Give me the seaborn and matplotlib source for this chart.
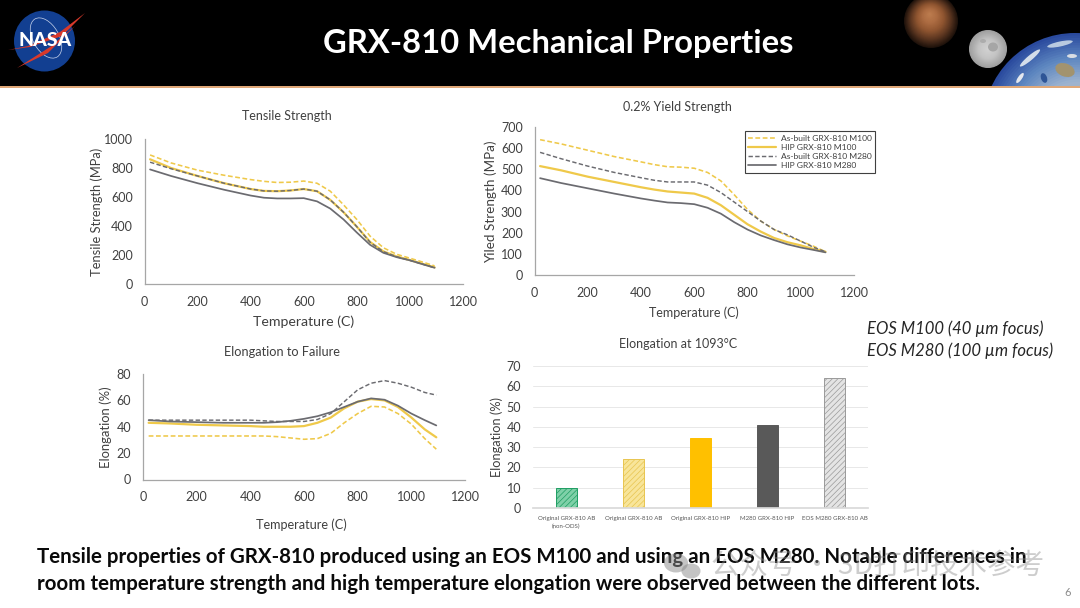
import matplotlib
matplotlib.use("Agg")
import matplotlib.pyplot as plt
import seaborn as sns
import pandas as pd
from matplotlib.colors import LinearSegmentedColormap
from matplotlib.patches import Circle, Ellipse, Polygon, Rectangle

sns.set_theme(style="white")
plt.rcParams['font.family'] = ['Lato', 'Noto Sans CJK SC', 'DejaVu Sans']
plt.rcParams['hatch.linewidth'] = 0.5

# ---------- data ----------
temperature = [21, 100, 200, 300, 400, 450, 500, 550, 600, 650, 700, 750, 800, 850, 900, 950, 1000, 1050, 1093]
series_names = ["As-built GRX-810 M100", "HIP GRX-810 M100", "As-built GRX-810 M280", "HIP GRX-810 M280"]

tensile_ab_m100 = [890, 835, 785, 750, 720, 708, 700, 702, 710, 695, 640, 546, 445, 330, 250, 205, 178, 150, 125]
tensile_hip_m100 = [860, 800, 745, 695, 655, 642, 640, 645, 655, 640, 580, 495, 395, 290, 225, 190, 165, 138, 115]
tensile_ab_m280 = [840, 795, 745, 695, 655, 642, 640, 645, 655, 640, 580, 495, 395, 288, 223, 188, 163, 136, 112]
tensile_hip_m280 = [790, 745, 695, 650, 610, 595, 590, 590, 592, 570, 520, 445, 355, 270, 215, 185, 163, 135, 112]

yield_ab_m100 = [640, 620, 590, 560, 535, 522, 512, 510, 505, 485, 445, 380, 310, 255, 215, 185, 160, 135, 110]
yield_hip_m100 = [515, 495, 465, 440, 415, 404, 395, 390, 385, 365, 330, 285, 240, 205, 175, 155, 140, 122, 110]
yield_ab_m280 = [580, 550, 515, 485, 460, 448, 440, 440, 440, 425, 390, 345, 300, 255, 215, 190, 160, 130, 110]
yield_hip_m280 = [458, 435, 410, 385, 362, 352, 343, 340, 335, 318, 290, 250, 215, 187, 165, 145, 130, 118, 107]

elong_ab_m100 = [33, 33, 33, 33, 33, 33, 32.5, 31.5, 30.5, 31, 35, 43, 50, 55.5, 55, 50, 42, 31, 23]
elong_hip_m100 = [43, 42.5, 41.5, 41, 40.5, 40, 40, 40, 40.5, 43, 47, 54, 59, 61, 60, 55, 47, 38, 32]
elong_ab_m280 = [45, 45, 45, 45, 45, 44.5, 44, 44, 44, 45.5, 50, 59, 68, 73, 75, 73, 70, 66, 64]
elong_hip_m280 = [45, 44, 43.5, 43, 43, 43, 43.5, 44.5, 46, 48, 51, 55, 59, 61.5, 60.5, 56, 50, 45, 41]

bar_labels = ["Original GRX-810 AB\n(non-ODS)", "Original GRX-810 AB", "Original GRX-810 HIP",
              "M280 GRX-810 HIP", "EOS M280 GRX-810 AB"]
bar_values = [9.8, 24.3, 34.5, 41, 64]

# ---------- styles ----------
YEL = "#EFC94A"
GRY = "#6B6B70"
line_colors = [YEL, YEL, GRY, GRY]
line_dashes = [(3, 1.6), "", (3, 1.6), ""]
line_widths = [1.15, 1.6, 1.05, 1.25]
bar_faces = ["#7FD0A8", "#F8E59A", "#FFC000", "#595959", "#E4E4E4"]
bar_edges = ["#1F9E63", "#E8C550", "#FFC000", "#595959", "#9A9A9A"]
bar_hatch = ["//////", "//////", None, None, "//////"]
TXT = "#404040"

W, H = 1080, 608
fig = plt.figure(figsize=(W / 100, H / 100), dpi=100, facecolor="white")

# full-figure layer working in image pixels
ov = fig.add_axes([0, 0, 1, 1], zorder=10)
ov.set_xlim(0, W)
ov.set_ylim(H, 0)
ov.axis("off")
ov.patch.set_alpha(0)


def box(l, t, r, b):
    return fig.add_axes([l / W, 1 - b / H, (r - l) / W, (b - t) / H])


def finish(ax, title, tpos, tsize, xlab, xpos, xsize, ylab, ypos, ysize):
    ax.set_title(title, y=1, fontsize=tsize, color=TXT)
    ax.title.set_transform(ov.transData)
    ax.title.set_position(tpos)
    ax.title.set_ha("center")
    ax.title.set_va("center")
    ax.set_xlabel(xlab, fontsize=xsize, color=TXT)
    ax.xaxis.set_label_coords(xpos[0], xpos[1], transform=ov.transData)
    ax.xaxis.label.set_va("center")
    ax.set_ylabel(ylab, fontsize=ysize, color=TXT)
    ax.yaxis.set_label_coords(ypos[0], ypos[1], transform=ov.transData)
    ax.yaxis.label.set_va("center")
    ax.patch.set_alpha(0)
    for s in ["top", "right"]:
        ax.spines[s].set_visible(False)


def line_chart(rect, ymax, ystep, series, title, tpos, tsize, xpos, xsize, ylab, ypos, ysize):
    ax = box(*rect)
    for name, vals, c, d, w in zip(series_names, series, line_colors, line_dashes, line_widths):
        df = pd.DataFrame({"T": temperature, "v": vals})
        sns.lineplot(data=df, x="T", y="v", ax=ax, color=c, lw=w,
                     label=name, errorbar=None, estimator=None, sort=False)
        ln = ax.get_lines()[-1]
        ln.set_solid_joinstyle("round")
        if d != "":
            ln.set_dashes(d)
    ax.set_xlim(0, 1200)
    ax.set_ylim(0, ymax)
    ax.set_xticks(range(0, 1201, 200))
    ax.set_yticks(range(0, ymax + 1, ystep))
    ax.tick_params(length=0, labelsize=9, labelcolor=TXT)
    ax.tick_params(axis="x", pad=8.5)
    ax.tick_params(axis="y", pad=8.5)
    for s in ["left", "bottom"]:
        ax.spines[s].set_color("#A6A6A6")
        ax.spines[s].set_linewidth(0.9)
    finish(ax, title, tpos, tsize, "Temperature (C)", xpos, xsize, ylab, ypos, ysize)
    ax.get_legend().remove()
    return ax


line_chart((144.5, 139, 463, 284), 1000, 200,
           [tensile_ab_m100, tensile_hip_m100, tensile_ab_m280, tensile_hip_m280],
           "Tensile Strength", (287, 116), 9, (304, 322), 10.2, "Tensile Strength (MPa)", (97, 212), 9.3)
ax2 = line_chart((534.5, 127, 854, 275), 700, 100,
                 [yield_ab_m100, yield_hip_m100, yield_ab_m280, yield_hip_m280],
                 "0.2% Yield Strength", (677, 107), 9, (694, 313), 9, "Yiled Strength (MPa)", (491, 202), 9.7)
line_chart((143, 374, 465, 479.5), 80, 20,
           [elong_ab_m100, elong_hip_m100, elong_ab_m280, elong_hip_m280],
           "Elongation to Failure", (282, 352), 9.2, (301, 525), 9.1, "Elongation (%)", (106, 427), 9.4)

# legend on the yield chart
handles = ax2.get_lines()
leg = ax2.legend(handles, series_names, loc="center", bbox_to_anchor=(810, 152),
                 bbox_transform=ov.transData, fontsize=6.1, frameon=True, fancybox=False,
                 edgecolor="#404040", framealpha=1, labelcolor=TXT, handlelength=3.2,
                 labelspacing=0.27, borderpad=0.42, handletextpad=0.6)
leg.get_frame().set_linewidth(0.8)

# bar chart
ax4 = box(533, 366, 868, 508)
bar_df = pd.DataFrame({"label": bar_labels, "value": bar_values})
sns.barplot(data=bar_df, x="label", y="value", ax=ax4, width=0.32, color="#999999", errorbar=None, saturation=1)
for p, f, e, h in zip(ax4.patches, bar_faces, bar_edges, bar_hatch):
    p.set_facecolor(f)
    p.set_edgecolor(e)
    p.set_linewidth(0.7)
    if h:
        p.set_hatch(h)
ax4.set_xlim(-0.5, 4.5)
ax4.set_ylim(0, 70)
ax4.set_yticks(range(0, 71, 10))
ax4.yaxis.grid(True, color="#E8E8E8", lw=0.7)
ax4.set_axisbelow(True)
ax4.tick_params(length=0, labelsize=9, labelcolor=TXT)
ax4.tick_params(axis="y", pad=8.5)
ax4.tick_params(axis="x", labelsize=4.4, pad=5.5, labelcolor="#595959")
for lab in ax4.get_xticklabels():
    lab.set_linespacing(1.7)
ax4.spines["left"].set_visible(False)
ax4.spines["bottom"].set_color("#D9D9D9")
finish(ax4, "Elongation at 1093°C", (678, 344), 9, "", (700, 540), 9, "Elongation (%)", (497, 437), 9.2)

# ---------- slide furniture ----------
ov.add_patch(Rectangle((0, 0), W, 85.5, fc="black", ec="none", zorder=1))
ov.add_patch(Rectangle((0, 85.5), W, 2, fc="#E0A878", ec="none", zorder=1))
header_clip = Rectangle((0, 0), W, 85.5, transform=ov.transData)


def shaded(cx, cy, r, colors, dx, dy, z=2, steps=40):
    cmap = LinearSegmentedColormap.from_list("s", colors)
    for i in range(steps):
        f = i / (steps - 1)
        k = 1 - f * 0.97
        a = Circle((cx + dx * (1 - k), cy + dy * (1 - k)), r * k, fc=cmap(f), ec="none", zorder=z)
        ov.add_patch(a)
        a.set_clip_path(header_clip)


# NASA logo
ov.add_patch(Circle((44.5, 41), 30.5, fc="#123F91", ec="none", zorder=2))
ov.add_patch(Ellipse((46, 38), 26, 44, angle=-30, fc="none", ec="#C8D4EC", lw=0.5, zorder=3))
ov.add_patch(Polygon([[85, 13], [60, 32], [28, 46], [8, 50], [30, 47], [62, 36]], fc="#D8392B", ec="none", zorder=3))
ov.add_patch(Polygon([[75, 26], [50, 47], [17, 68], [48, 53]], fc="#D8392B", ec="none", zorder=3))
ov.text(45, 41, "NASA", color="white", fontsize=14, fontweight="black", ha="center", va="center", zorder=4)

# planets
shaded(931, 21, 27, ["#1E120B", "#5A3520", "#8F5530", "#AD6C42", "#BC7C4E"], -1.5, -7)
shaded(988, 49, 19, ["#9E9E9E", "#C4C4C4", "#D2D2D2"], 0, 0)
ov.add_patch(Ellipse((993, 47), 10, 9, fc="#A6A6A6", ec="none", zorder=3))
ov.add_patch(Ellipse((983, 41), 6, 4, fc="#ACACAC", ec="none", zorder=3))
shaded(1075, 125, 92, ["#2A4A9E", "#5D86C0", "#9DB3CF", "#A9B4B8", "#A8A48E"], 6, 6)
earth_clip = Circle((1075, 125), 92, transform=ov.transData)
for (x, y, a, b, ang, col) in [(1030, 58, 26, 5, -40, "#D4DEEA"), (1060, 44, 26, 5, -12, "#B9CAE0"),
                               (1020, 78, 12, 4, -55, "#E4E8EE"), (1065, 70, 20, 13, 20, "#A2936F"),
                               (1044, 78, 10, 6, 70, "#2E5596"), (1072, 56, 10, 4, 0, "#D9DEE4")]:
    e = Ellipse((x, y), a, b, angle=ang, fc=col, ec="none", zorder=3)
    ov.add_patch(e)
    e.set_clip_path(earth_clip)
    e.set_clip_on(True)

ov.text(558.5, 43, "GRX-810 Mechanical Properties", color="white", fontsize=23.6, fontweight="bold",
        ha="center", va="center", zorder=4)

ov.text(867, 329, "EOS M100 (40 µm focus)", fontsize=12, style="italic", color="#262626", va="center")
ov.text(867, 350.5, "EOS M280 (100 µm focus)", fontsize=12, style="italic", color="#262626", va="center")

ov.text(37, 557, "Tensile properties of GRX-810 produced using an EOS M100 and using an EOS M280. Notable differences in",
        fontsize=14.8, fontweight="bold", color="#0A0A0A", va="center")
ov.text(37, 584, "room temperature strength and high temperature elongation were observed between the different lots.",
        fontsize=14.8, fontweight="bold", color="#0A0A0A", va="center")
ov.text(1068, 592, "6", fontsize=8, color="#8C8C8C", ha="center", va="center")

# watermark
ov.add_patch(Ellipse((676, 563), 24, 19, fc="#8A8A8A", alpha=0.5, ec="none", zorder=6))
ov.add_patch(Ellipse((691, 571), 19, 15, fc="#8A8A8A", alpha=0.5, ec="none", zorder=6))
ov.text(711, 566, "公众号 · 3D打印技术参考", fontsize=20.5, color="#8A8A8A", alpha=0.42,
        family=["Noto Sans CJK SC", "DejaVu Sans"], va="center", zorder=6)

fig.savefig("out.png", dpi=100, facecolor="white")
